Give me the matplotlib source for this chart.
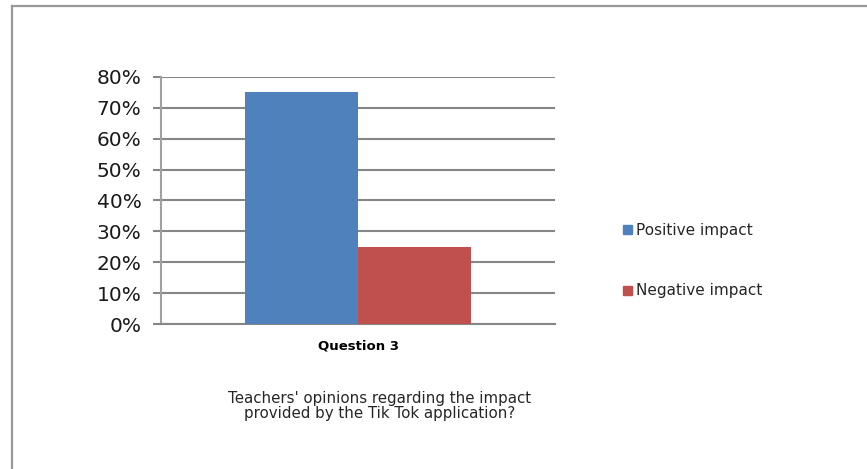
import matplotlib
matplotlib.use("Agg")
import matplotlib.pyplot as plt
from matplotlib.lines import Line2D
import numpy as np

categories = ["Question 3"]
series_names = ["Positive impact", "Negative impact"]
positive = [0.75]
negative = [0.25]
yticks = [0, 0.1, 0.2, 0.3, 0.4, 0.5, 0.6, 0.7, 0.8]
ytick_labels = ["0%", "10%", "20%", "30%", "40%", "50%", "60%", "70%", "80%"]
title_text = "Teachers' opinions regarding the impact\nprovided by the Tik Tok application?"
colors = ["#4F81BD", "#C0504D"]

W, H = 867, 469
plt.rcParams['font.family'] = ['DejaVu Sans']
fig = plt.figure(figsize=(W / 100, H / 100), dpi=100)

# frame
fig.add_artist(Line2D([12 / W, 12 / W], [0, 1 - 6.5 / H], transform=fig.transFigure,
                      color="#999999", lw=1.6))
fig.add_artist(Line2D([12 / W, 1], [1 - 6.5 / H, 1 - 6.5 / H], transform=fig.transFigure,
                      color="#999999", lw=1.6))

left, right = 161, 555
top, bottom = 77, 324
ax = fig.add_axes([left / W, 1 - bottom / H, (right - left) / W, (bottom - top) / H])

x = np.arange(len(categories))
bw = 1 / 3.5
ax.bar(x - bw / 2, positive, bw, color=colors[0], zorder=3, label=series_names[0])
ax.bar(x + bw / 2, negative, bw, color=colors[1], zorder=3, label=series_names[1])

ax.set_xlim(-0.5, 0.5)
ax.set_ylim(0, 0.8)
ax.set_yticks(yticks)
ax.set_yticklabels(ytick_labels, fontsize=14.5, color="#1a1a1a")
ax.set_xticks(x)
ax.set_xticklabels(categories, fontsize=9.5, fontweight="bold", color="#000000")
ax.tick_params(axis="y", length=6, width=1.5, color="#868686", pad=8)
ax.tick_params(axis="x", length=0, pad=11)
ax.grid(axis="y", color="#868686", lw=1.5, zorder=0)
for s in ["top", "right"]:
    ax.spines[s].set_visible(False)
ax.spines["left"].set_color("#A0A0A0")
ax.spines["left"].set_linewidth(1.5)
ax.spines["bottom"].set_color("#868686")
ax.spines["bottom"].set_linewidth(1.5)

fig.text(380 / W, 1 - 406 / H, title_text, ha="center", va="center",
         fontsize=10.8, color="#262626", linespacing=1.05)

# legend
for i, (name, c) in enumerate(zip(series_names, colors)):
    yc = [230, 291][i]
    fig.add_artist(plt.Rectangle((623 / W, 1 - (yc + 4.5) / H), 9 / W, 9 / H,
                                 transform=fig.transFigure, color=c))
    fig.text(636 / W, 1 - yc / H, name, ha="left", va="center", fontsize=11, color="#262626")

fig.savefig("out.png", dpi=100)
